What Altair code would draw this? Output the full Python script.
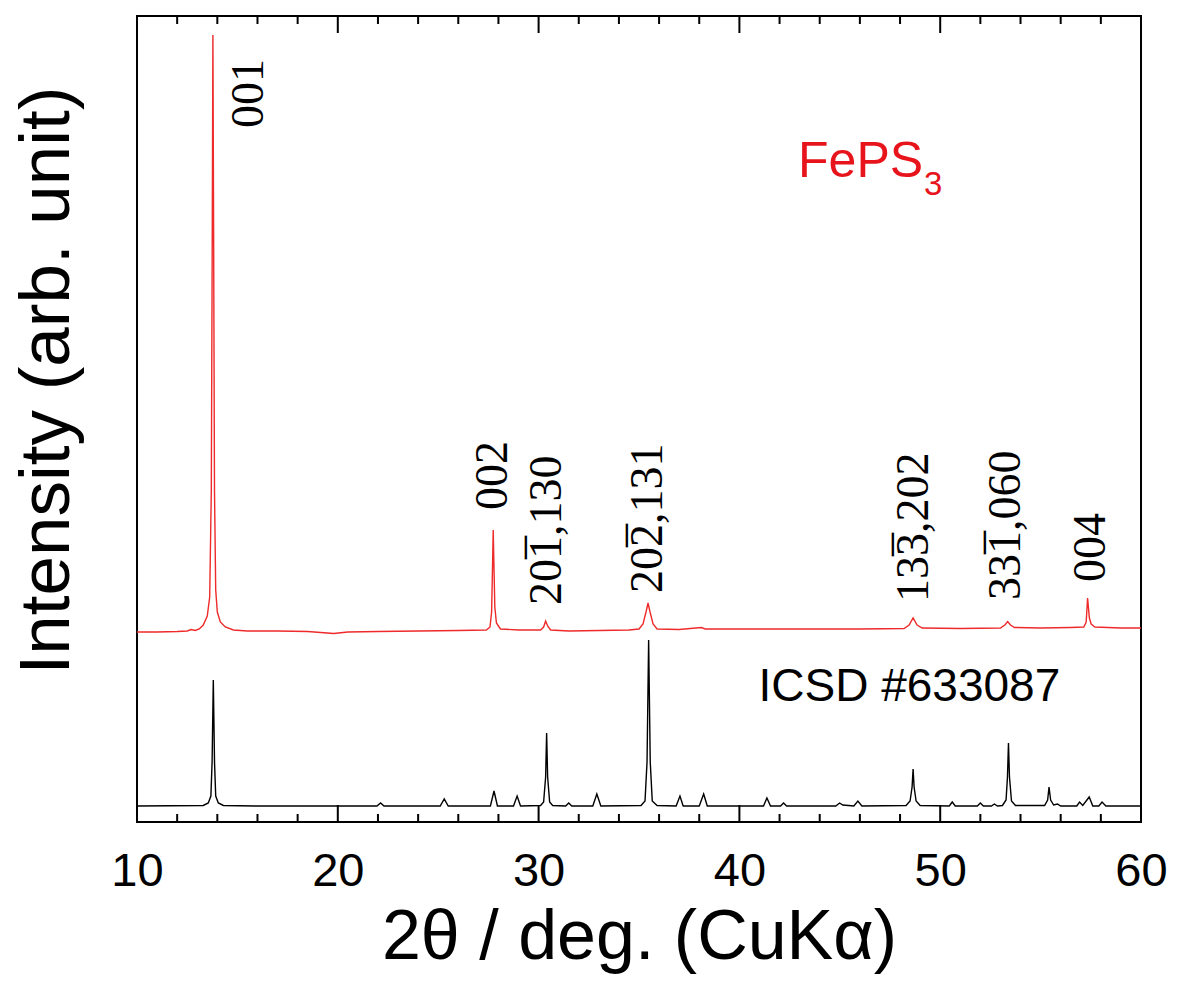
import altair as alt
import pandas as pd

# ---- FePS3 measured pattern (2theta, intensity arb. unit) ----
red_x = [10.0, 11.0, 12.0, 12.5, 12.7, 12.9, 13.1, 13.3, 13.5, 13.62, 13.7, 13.75, 13.78, 13.81, 13.86, 13.92,
         14.0, 14.15, 14.4, 14.8, 15.5, 17.0, 18.5, 19.8, 20.5, 22.0, 24.0, 26.0, 27.4, 27.58, 27.66, 27.71,
         27.74, 27.77, 27.82, 27.9, 28.1, 29.0, 30.1, 30.25, 30.35, 30.45, 30.6, 31.5, 33.0, 34.5, 35.0, 35.2,
         35.35, 35.45, 35.55, 35.7, 35.9, 37.0, 38.1, 38.3, 40.0, 42.0, 44.0, 46.0, 48.2, 48.45, 48.65, 48.85,
         49.1, 51.0, 53.0, 53.22, 53.36, 53.5, 53.7, 55.0, 56.5, 57.15, 57.27, 57.34, 57.38, 57.43, 57.52,
         57.7, 59.0, 60.0]
red_y = [190, 190, 190.5, 191, 192.5, 191.5, 193, 197, 206, 225, 330, 600, 787, 620, 330, 232,
         210, 200, 195, 192, 191, 191, 190.5, 188.5, 190, 190.5, 191, 191.5, 192, 195, 210, 260,
         292, 262, 215, 199, 193, 192, 192, 195, 201, 196, 192, 191, 191.5, 192, 193, 198,
         210, 219, 210, 198, 193, 192.5, 194.5, 193, 193, 193, 193, 193, 193.5, 197, 204, 197,
         194, 193.5, 194, 197, 200.5, 197, 194.5, 194, 194.5, 195, 200, 224, 215, 204, 198,
         195, 194, 194]

# ---- ICSD #633087 simulated pattern ----
black_x = [10.0, 13.3, 13.55, 13.68, 13.74, 13.8, 13.86, 13.92, 14.05, 14.3, 16.0, 21.95, 22.13, 22.3,
           25.1, 25.3, 25.5, 27.6, 27.78, 27.95, 28.75, 28.93, 29.1, 30.1, 30.25, 30.35, 30.4, 30.45,
           30.55, 30.7, 31.35, 31.5, 31.65, 32.7, 32.9, 33.1, 35.1, 35.3, 35.4, 35.48, 35.56, 35.66,
           35.9, 36.85, 37.04, 37.2, 38.0, 38.22, 38.4, 41.2, 41.37, 41.55, 42.05, 42.2, 42.35, 44.8,
           44.99, 45.15, 45.7, 45.9, 46.1, 48.3, 48.5, 48.6, 48.65, 48.7, 48.8, 49.0, 50.45, 50.6,
           50.75, 51.85, 52.0, 52.15, 52.55, 52.7, 52.85, 53.1, 53.28, 53.35, 53.4, 53.45, 53.55,
           53.75, 55.2, 55.35, 55.42, 55.5, 55.65, 55.84, 56.0, 56.8, 56.94, 57.1, 57.42, 57.6, 57.9,
           58.06, 58.25, 60.0]
black_y = [16, 16.5, 19, 26, 60, 142, 60, 26, 19, 16.5, 16, 16, 19, 16,
           16, 23, 16, 16, 31, 16, 16, 26, 16, 16.5, 20, 45, 89, 45,
           20, 16.5, 16, 19, 16, 16, 28, 16, 16.5, 21, 60, 182, 60, 21,
           16.5, 16, 26, 16, 16, 28, 16, 16, 24, 16, 16, 19, 16, 16,
           19, 17, 16, 21, 16, 16.5, 21, 35, 53, 35, 21, 16.5, 16, 20,
           16, 16, 19, 16, 16, 18, 16, 16.5, 22, 45, 79, 45, 21,
           16.5, 16.5, 22, 35, 22, 17, 18, 16, 16, 20, 16.5, 25, 16, 16,
           20, 16, 16]

# ---- peak labels (Miller indices); the third digit of some carries an overbar ----
hkl_text = ["001", "002", "201,130", "202,131", "133,202", "331,060", "004"]
hkl_bar = [False, False, True, True, True, True, False]
hkl_x = [15.58, 27.73, 30.42, 35.45, 48.70, 53.28, 57.51]
hkl_y = [694, 312, 217, 229, 220, 222, 240]

major_ticks = [10, 20, 30, 40, 50, 60]
minor_ticks = [12, 14, 16, 18, 22, 24, 26, 28, 32, 34, 36, 38, 42, 44, 46, 48, 52, 54, 56, 58]

W, H = 1004, 806
LF = 46  # serif label font size
xs = alt.Scale(domain=[10, 60], nice=False, zero=False)
ys = alt.Scale(domain=[0, 806], nice=False, zero=False)

red_df = pd.DataFrame({"x": red_x, "y": red_y})
black_df = pd.DataFrame({"x": black_x, "y": black_y})
lab_df = pd.DataFrame({"x": hkl_x, "y": hkl_y, "t": hkl_text, "bar": hkl_bar})
bar_df = lab_df[lab_df["bar"]].assign(t="_")
maj_df = pd.DataFrame({"x": major_ticks})
min_df = pd.DataFrame({"x": minor_ticks})

SANS = "Liberation Sans"

x_axis = alt.Axis(values=major_ticks, ticks=False, domain=False, grid=False, labelFlush=False,
                  labelFont=SANS, labelFontSize=47, labelColor="black", labelPadding=26,
                  title="2θ / deg. (CuKα)", titleFont=SANS, titleFontSize=70,
                  titleFontWeight="normal", titleColor="black", titleY=81, titleBaseline="top")
y_axis = alt.Axis(labels=False, ticks=False, domain=False, grid=False,
                  title="Intensity (arb. unit)", titleFont=SANS, titleFontSize=71,
                  titleFontWeight="normal", titleColor="black", titleAngle=270,
                  titleX=-125, titleY=364, titleBaseline="top", titleAlign="center")

red = alt.Chart(red_df).mark_line(color="#ee2a2a", strokeWidth=1.4).encode(
    x=alt.X("x:Q", scale=xs, axis=x_axis),
    y=alt.Y("y:Q", scale=ys, axis=y_axis),
)
black = alt.Chart(black_df).mark_line(color="black", strokeWidth=1.4).encode(
    x=alt.X("x:Q", scale=xs), y=alt.Y("y:Q", scale=ys))

bot_major = alt.Chart(maj_df).mark_rule(color="black", strokeWidth=2).encode(
    x=alt.X("x:Q", scale=xs), y=alt.value(H), y2=alt.value(H - 17))
top_major = alt.Chart(maj_df).mark_rule(color="black", strokeWidth=2).encode(
    x=alt.X("x:Q", scale=xs), y=alt.value(0), y2=alt.value(17))
bot_minor = alt.Chart(min_df).mark_rule(color="black", strokeWidth=2).encode(
    x=alt.X("x:Q", scale=xs), y=alt.value(H), y2=alt.value(H - 8))
top_minor = alt.Chart(min_df).mark_rule(color="black", strokeWidth=2).encode(
    x=alt.X("x:Q", scale=xs), y=alt.value(0), y2=alt.value(8))

labels = alt.Chart(lab_df).mark_text(angle=270, align="left", baseline="middle",
                                     font="Liberation Serif", fontSize=LF, color="black").encode(
    x=alt.X("x:Q", scale=xs), y=alt.Y("y:Q", scale=ys), text="t:N")
# overbar above the third digit: an underscore glyph lifted above the digits
bars = alt.Chart(bar_df).mark_text(angle=270, align="left", baseline="alphabetic",
                                   font="Liberation Serif", fontSize=LF, color="black",
                                   dx=LF, dy=-0.56 * LF).encode(
    x=alt.X("x:Q", scale=xs), y=alt.Y("y:Q", scale=ys), text="t:N")

fe_df = pd.DataFrame({"x": [42.92], "y": [645], "t": ["FePS"]})
sub_df = pd.DataFrame({"x": [49.19], "y": [627], "t": ["3"]})
icsd_df = pd.DataFrame({"x": [40.95], "y": [121], "t": ["ICSD #633087"]})

fe = alt.Chart(fe_df).mark_text(align="left", baseline="alphabetic", font=SANS,
                                fontSize=50, color="#e8141c").encode(
    x=alt.X("x:Q", scale=xs), y=alt.Y("y:Q", scale=ys), text="t:N")
sub = alt.Chart(sub_df).mark_text(align="left", baseline="alphabetic", font=SANS,
                                  fontSize=33, color="#e8141c").encode(
    x=alt.X("x:Q", scale=xs), y=alt.Y("y:Q", scale=ys), text="t:N")
icsd = alt.Chart(icsd_df).mark_text(align="left", baseline="alphabetic", font=SANS,
                                    fontSize=46, color="black").encode(
    x=alt.X("x:Q", scale=xs), y=alt.Y("y:Q", scale=ys), text="t:N")

chart = alt.layer(red, black, bot_major, top_major, bot_minor, top_minor, labels, bars, fe, sub, icsd).properties(
    width=W, height=H,
    autosize=alt.AutoSizeParams(type="none"),
    padding={"left": 137, "top": 16, "right": 36, "bottom": 177},
    background="white",
).configure_view(stroke="black", strokeWidth=2)

chart.save("out.html", embed_options={"renderer": "svg", "actions": False})
